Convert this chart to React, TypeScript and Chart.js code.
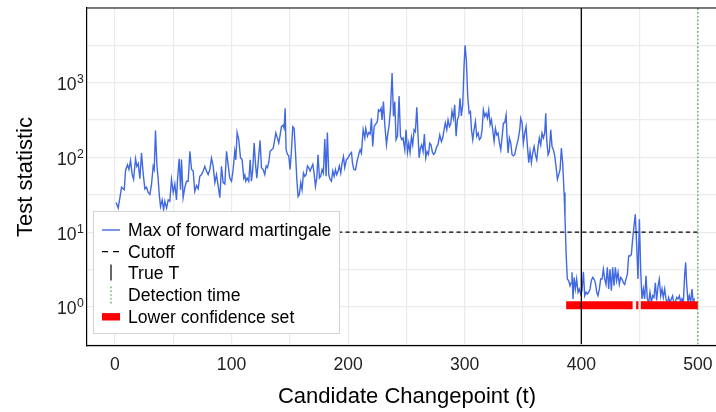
import React, { useEffect, useRef } from 'react';
import { Chart, registerables } from 'chart.js';

Chart.register(...registerables);

// ---- data: candidate changepoint t and the max of forward martingale ----
const tPart1 = [1, 2.8, 4.3, 5.7, 8, 9.1, 10.8, 12, 13.4, 14.8, 16, 17.7, 18.8, 20, 21.4, 22.8, 24.3, 25.7, 27.1, 28.5, 30, 31.4, 32.8, 33.7, 34.8, 36, 37.1, 38, 39.1, 40.5, 41.7, 42.8, 44.3, 45.7, 47.1, 48.5, 50, 51.4, 52.8, 53.7, 55.1, 56.3, 57.1, 58.5, 60, 61.4, 62.8, 64.3, 65.7, 67.1, 68.5, 70, 71.4, 72.8, 74.3, 75.7, 77.1, 78.5, 80, 81.4, 82.8, 84.3, 85.7, 87.1, 88.5, 90, 91.4, 92.8, 94.3, 95.7, 97.1];
const statPart1 = [25, 21, 29, 40, 37, 67, 80, 69, 91, 59, 51, 96, 76, 83, 52, 115, 59, 38, 40, 34, 32, 44, 76, 69, 230, 80, 51, 32, 22, 27, 20, 26, 21, 27, 26, 51, 34, 44, 27, 51, 96, 37, 94, 29, 40, 48, 48, 121, 69, 66, 35, 42, 38, 56, 59, 66, 76, 66, 59, 69, 98, 76, 46, 59, 42, 29, 76, 46, 44, 121, 80];

const tPart2 = [98.5, 100, 101.4, 102.8, 103.7, 104.8, 106.2, 107.7, 109.1, 110.5, 111.4, 112.2, 113.4, 114.8, 116, 117.1, 118.2, 119.4, 120.5, 121.7, 122.8, 124.5, 125.7, 127.1, 128.5, 129.7, 130.8, 132, 133.1, 134.2, 135.7, 136.8, 138, 139.4, 140.5, 141.7, 142.8, 144.2, 145.1, 146, 146.8, 148, 149.1, 150.2, 151.4, 152.5, 153.7, 154.8, 156, 157.1, 158.2, 159.4, 160.5, 161.7, 162.8, 164, 165.1, 166.2, 167.4, 168.5, 169.7, 170.8, 172, 173.1, 174.2, 175.4, 176.5, 177.7, 178.8, 180, 181.1, 182.2, 183.4, 184.5, 185.7, 186.8, 188, 189.1, 190.2, 191.4, 192.5, 193.7, 194.8, 196, 197.1, 198.5];
const statPart2 = [53, 48, 69, 121, 93, 215, 173, 99, 93, 53, 58, 48, 53, 48, 93, 48, 69, 156, 84, 53, 84, 169, 73, 69, 59, 77, 73, 87, 121, 126, 132, 164, 213, 180, 156, 200, 258, 270, 245, 455, 127, 110, 105, 69, 121, 258, 245, 121, 51, 30, 32, 46, 37, 62, 56, 59, 77, 73, 66, 73, 81, 62, 41, 53, 109, 53, 56, 69, 62, 177, 56, 215, 59, 51, 48, 66, 56, 69, 59, 66, 77, 62, 84, 103, 73, 93];

const tPart3 = [200, 201.4, 202.9, 203.7, 204.9, 206.3, 207.7, 209.1, 210.3, 211.4, 212.9, 214.3, 215.1, 216.6, 217.7, 218.9, 220, 221.1, 222.3, 223.7, 225.1, 226, 227.1, 228.3, 229.1, 230.3, 231.4, 232.9, 234, 235.1, 236.3, 237.7, 238.9, 240, 241.1, 242.3, 243.7, 244.9, 246, 247.1, 248.6, 249.7, 250.9, 252, 253.1, 254.3, 255.4, 256.6, 257.7, 258.9, 260, 260.9, 262, 263.1, 264.3, 265.4, 266.6, 267.7, 268.9, 270, 271.1, 272.3, 273.4, 274.6, 276, 277.1, 278.6, 280, 281.1, 282.3, 283.4, 284.6, 285.7, 286.9, 288, 289.1, 290.3, 291.4, 292.6, 293.7, 294.9, 296, 297.1, 298.3, 299.4, 300.3, 301.4, 302.6];
const statPart3 = [99, 110, 117, 85, 69, 68, 89, 110, 127, 114, 235, 182, 245, 192, 215, 205, 335, 140, 258, 280, 303, 433, 415, 455, 318, 560, 280, 148, 205, 265, 433, 1350, 355, 560, 173, 192, 665, 192, 173, 182, 127, 235, 117, 155, 117, 187, 148, 235, 222, 470, 192, 99, 133, 148, 120, 205, 99, 120, 110, 155, 148, 117, 110, 117, 140, 148, 200, 163, 182, 235, 290, 235, 318, 258, 280, 415, 335, 505, 192, 318, 360, 620, 360, 505, 1620, 3160, 2000, 650];

const tPart4 = [303.8, 304.9, 305.8, 306.9, 308, 309.2, 310.3, 311.5, 312.6, 313.8, 314.9, 316, 317.2, 318.3, 319.5, 320.6, 321.8, 322.9, 324, 325.2, 326.3, 327.5, 328.6, 329.8, 330.9, 332, 333.2, 334.3, 335.5, 336.3, 337.2, 338.3, 339.5, 340.6, 341.8, 342.9, 344.3, 345.8, 347.2, 348, 349.2, 350.3, 351.5, 352.6, 353.8, 354.9, 356, 357.2, 358.3, 359.5, 360.6, 361.8, 362.9, 364, 365.2, 366.3, 367.5, 368.6, 369.5, 370.3, 371.5, 372.6, 373.8, 374.9, 376, 377.2, 378.3, 379.5, 380.6, 381.8, 382.9, 384, 385.2, 386, 387];
const statPart4 = [390, 410, 235, 173, 235, 303, 192, 212, 173, 182, 235, 433, 355, 390, 335, 433, 275, 318, 235, 164, 245, 200, 212, 156, 127, 182, 290, 290, 370, 192, 115, 182, 156, 109, 105, 109, 140, 173, 235, 335, 290, 156, 212, 258, 140, 85, 121, 85, 115, 140, 109, 93, 140, 182, 148, 212, 182, 212, 390, 173, 109, 121, 235, 140, 127, 105, 76, 51, 59, 69, 134, 85, 34, 16, 5];

const tPart5 = [388, 389.2, 390.3, 391.2, 392, 392.9, 393.8, 394.9, 396, 397.2, 398.3, 399.5, 400.6, 401.8, 402.9, 404.1, 405.2, 406.3, 407.5, 408.6, 409.8, 410.9, 412.1, 413.2, 414.3, 415.5, 416.6, 417.8, 418.9, 420.1, 421.2, 422.3, 423.5, 424.6, 425.8, 426.9, 428.1, 429.2, 430.3, 431.5, 432.6, 433.8, 434.9, 436.1, 437.2, 438.3, 439.5, 440.6, 441.8, 442.9, 444, 445.2, 446.3, 447.5, 448.6, 449.8, 450.9, 452, 453.2, 454.3, 455.5, 456.6, 457.8, 458.9, 460.1, 461.2, 462.3, 463.5, 464.6, 465.8, 466.9, 468.1, 469.2, 470.3, 471.5, 472.6, 473.8, 474.9, 476.1, 477.2, 478.3, 479.5, 480.6, 481.8, 482.9, 484.1, 485.2, 486.3, 487.5, 488.6, 489.5, 490.3, 491.5, 492.6, 493.8, 494.9, 496.1, 497];
const statPart5 = [2.36, 2.24, 1.92, 2.1, 2.9, 1.28, 2.48, 1.74, 2.36, 1.57, 1.74, 1.49, 1.65, 2.95, 1.41, 1.57, 1.49, 1.57, 1.74, 2.26, 2.48, 2.36, 2.1, 1.57, 1.41, 1.74, 2.36, 2.36, 3.2, 2.36, 2.0, 3.38, 1.74, 3.2, 1.65, 3.38, 1.92, 3.38, 2.26, 2.9, 2.0, 2.48, 2.36, 2.1, 2.0, 2.36, 2.75, 4.8, 4.8, 5.0, 8.0, 12.1, 17.3, 6.6, 2.36, 14.9, 3.2, 1.28, 1.74, 1.28, 2.6, 1.28, 1.15, 1.57, 1.15, 1.41, 1.34, 2.1, 1.22, 1.92, 2.36, 1.41, 1.74, 1.34, 1.74, 1.28, 1.1, 1.34, 1.15, 1.28, 1.41, 1.1, 1.15, 1.34, 1.28, 1.41, 1.15, 1.28, 1.15, 2.6, 3.94, 2.1, 1.15, 1.41, 1.15, 1.74, 1.1, 1.3];

const cutoffValue = 10;
const cutoffRange = [1, 500];
const trueT = 400;
const detectionTime = 500;
const lcsStarts = [387, 447, 451];
const lcsEnds = [444, 449, 500];
const lcsLevel = 1.05;

const xMin = -23.95;
const xMax = 524.95;
const yExpMin = -0.5;
const yExpMax = 4;
const xTickValues = [0, 50, 100, 150, 200, 250, 300, 350, 400, 450, 500];
const xLabelValues = [0, 100, 200, 300, 400, 500];
const yGridExponents = [-0.5, 0, 0.5, 1, 1.5, 2, 2.5, 3, 3.5, 4];
const yLabelExponents = [0, 1, 2, 3];

const legendLabels = ['Max of forward martingale', 'Cutoff', 'True T', 'Detection time', 'Lower confidence set'];
const xTitle = 'Candidate Changepoint (t)';
const yTitle = 'Test statistic';

const BLUE = '#4169E1';
const GREEN = '#4DAF4A';
const RED = '#FF0000';
const GRID = '#ebebeb';
const FONT = '"Liberation Sans", Arial, Helvetica, sans-serif';

function buildSeries() {
  const ts = [...tPart1, ...tPart2, ...tPart3, ...tPart4, ...tPart5];
  const vs = [...statPart1, ...statPart2, ...statPart3, ...statPart4, ...statPart5];
  const n = Math.min(ts.length, vs.length);
  const out: { x: number; y: number }[] = [];
  for (let i = 0; i < n; i++) out.push({ x: ts[i], y: vs[i] });
  return out;
}

function buildLcs() {
  const out: { x: number; y: number | null }[] = [];
  for (let i = 0; i < lcsStarts.length; i++) {
    out.push({ x: lcsStarts[i], y: lcsLevel });
    out.push({ x: lcsEnds[i], y: lcsLevel });
    if (i < lcsStarts.length - 1) out.push({ x: (lcsEnds[i] + lcsStarts[i + 1]) / 2, y: null });
  }
  return out;
}

const overlayPlugin = {
  id: 'overlay',
  afterDraw(chart: any) {
    const { ctx, chartArea } = chart;
    const ys = chart.scales.y;
    ctx.save();
    // top / right border of panel
    ctx.strokeStyle = '#000';
    ctx.lineWidth = 1.2;
    ctx.beginPath();
    ctx.moveTo(chartArea.left, chartArea.top);
    ctx.lineTo(chartArea.right, chartArea.top);
    ctx.lineTo(chartArea.right, chartArea.bottom);
    ctx.stroke();

    // y tick labels 10^k
    ctx.fillStyle = '#222';
    for (const e of yLabelExponents) {
      const py = ys.getPixelForValue(Math.pow(10, e));
      ctx.font = `17.6px ${FONT}`;
      ctx.textAlign = 'right';
      ctx.textBaseline = 'alphabetic';
      const baseX = chartArea.left - 10.5;
      ctx.fillText('10', baseX, py + 7.5);
      ctx.font = `12.3px ${FONT}`;
      ctx.textAlign = 'left';
      ctx.fillText(String(e), baseX + 0.5, py + 0.5);
    }

    // axis titles
    ctx.fillStyle = '#000';
    ctx.font = `22px ${FONT}`;
    ctx.textAlign = 'center';
    ctx.textBaseline = 'alphabetic';
    ctx.fillText(xTitle, (chartArea.left + chartArea.right) / 2, 403);
    ctx.save();
    ctx.translate(31.5, (chartArea.top + chartArea.bottom) / 2);
    ctx.rotate(-Math.PI / 2);
    ctx.fillText(yTitle, 0, 0);
    ctx.restore();

    // legend
    const bx = 93, by = 211, bw = 246, bh = 122;
    ctx.fillStyle = '#ffffff';
    ctx.fillRect(bx, by, bw, bh);
    ctx.strokeStyle = '#d3d3d3';
    ctx.lineWidth = 1;
    ctx.strokeRect(bx + 0.5, by + 0.5, bw, bh);
    const rowY = (i: number) => 230 + i * 21.7;
    const kx0 = 102, kx1 = 120, kxm = 111;
    // 0: blue line
    ctx.strokeStyle = BLUE;
    ctx.lineWidth = 1.4;
    ctx.beginPath();
    ctx.moveTo(kx0, rowY(0));
    ctx.lineTo(kx1, rowY(0));
    ctx.stroke();
    // 1: dashed
    ctx.strokeStyle = '#000';
    ctx.lineWidth = 1.2;
    ctx.setLineDash([6, 5]);
    ctx.beginPath();
    ctx.moveTo(kx0, rowY(1));
    ctx.lineTo(kx1, rowY(1));
    ctx.stroke();
    ctx.setLineDash([]);
    // 2: vertical solid
    ctx.beginPath();
    ctx.moveTo(kxm, rowY(2) - 9);
    ctx.lineTo(kxm, rowY(2) + 7);
    ctx.stroke();
    // 3: vertical dotted green
    ctx.strokeStyle = GREEN;
    ctx.lineWidth = 1.3;
    ctx.setLineDash([1.6, 2.2]);
    ctx.beginPath();
    ctx.moveTo(kxm, rowY(3) - 8.5);
    ctx.lineTo(kxm, rowY(3) + 9.5);
    ctx.stroke();
    ctx.setLineDash([]);
    // 4: red bar
    ctx.fillStyle = RED;
    ctx.fillRect(kx0, rowY(4) - 3.7, kx1 - kx0, 7.4);

    ctx.fillStyle = '#000';
    ctx.font = `17.6px ${FONT}`;
    ctx.textAlign = 'left';
    ctx.textBaseline = 'middle';
    legendLabels.forEach((lab, i) => ctx.fillText(lab, 128, rowY(i) + 1));
    ctx.restore();
  },
};

export default function App() {
  const ref = useRef<HTMLCanvasElement | null>(null);
  useEffect(() => {
    if (!ref.current) return;
    const yMin = Math.pow(10, yExpMin);
    const yMax = Math.pow(10, yExpMax);
    const chart = new Chart(ref.current, {
      type: 'line',
      data: {
        datasets: [
          {
            label: 'Detection time',
            data: [{ x: detectionTime, y: yMin }, { x: detectionTime, y: yMax }],
            borderColor: GREEN,
            borderWidth: 1.3,
            borderDash: [1.6, 2.2],
            pointRadius: 0,
            order: 0,
          },
          {
            label: 'True T',
            data: [{ x: trueT, y: yMin }, { x: trueT, y: yMax }],
            borderColor: '#000',
            borderWidth: 1.3,
            pointRadius: 0,
            order: 1,
          },
          {
            label: 'Lower confidence set',
            data: buildLcs(),
            borderColor: RED,
            borderWidth: 8,
            borderCapStyle: 'butt',
            spanGaps: false,
            pointRadius: 0,
            order: 2,
          },
          {
            label: 'Cutoff',
            data: [{ x: cutoffRange[0], y: cutoffValue }, { x: cutoffRange[1], y: cutoffValue }],
            borderColor: '#000',
            borderWidth: 1.2,
            borderDash: [4.2, 3.2],
            pointRadius: 0,
            order: 3,
          },
          {
            label: 'Max of forward martingale',
            data: buildSeries(),
            borderColor: BLUE,
            borderWidth: 1.4,
            pointRadius: 0,
            tension: 0,
            order: 4,
          },
        ] as any,
      },
      options: {
        animation: false,
        responsive: false,
        devicePixelRatio: 1,
        layout: { padding: { top: 8, right: 13, left: 0, bottom: 0 } },
        plugins: { legend: { display: false }, tooltip: { enabled: false }, title: { display: false } },
        elements: { line: { fill: false } },
        scales: {
          x: {
            type: 'linear',
            min: xMin,
            max: xMax,
            afterBuildTicks: (s: any) => {
              s.ticks = xTickValues.map((v) => ({ value: v }));
            },
            afterFit: (s: any) => {
              s.height = 66;
              s.paddingLeft = 0;
              s.paddingRight = 0;
            },
            ticks: {
              autoSkip: false,
              maxRotation: 0,
              padding: 9,
              color: '#222',
              font: { family: FONT, size: 17.6 },
              callback: (v: any) => (xLabelValues.includes(Number(v)) ? String(v) : ''),
            },
            grid: { color: GRID, lineWidth: 1.2, drawTicks: false },
            border: { display: true, color: '#000', width: 1.2 },
          },
          y: {
            type: 'logarithmic',
            min: yMin,
            max: yMax,
            afterBuildTicks: (s: any) => {
              s.ticks = yGridExponents.map((e) => ({ value: Math.pow(10, e) }));
            },
            afterFit: (s: any) => {
              s.width = 87;
              s.paddingTop = 0;
              s.paddingBottom = 0;
            },
            ticks: {
              autoSkip: false,
              callback: () => '',
              font: { family: FONT, size: 17.6 },
            },
            grid: { color: GRID, lineWidth: 1.2, drawTicks: false },
            border: { display: true, color: '#000', width: 1.2 },
          },
        },
      },
      plugins: [overlayPlugin],
    } as any);
    return () => chart.destroy();
  }, []);

  return (
    <div style={{ position: 'absolute', left: 0, top: 0, width: 716, height: 412, overflow: 'hidden', background: '#fff' }}>
      <canvas ref={ref} width={740} height={412} style={{ display: 'block', width: 740, height: 412 }} />
    </div>
  );
}
